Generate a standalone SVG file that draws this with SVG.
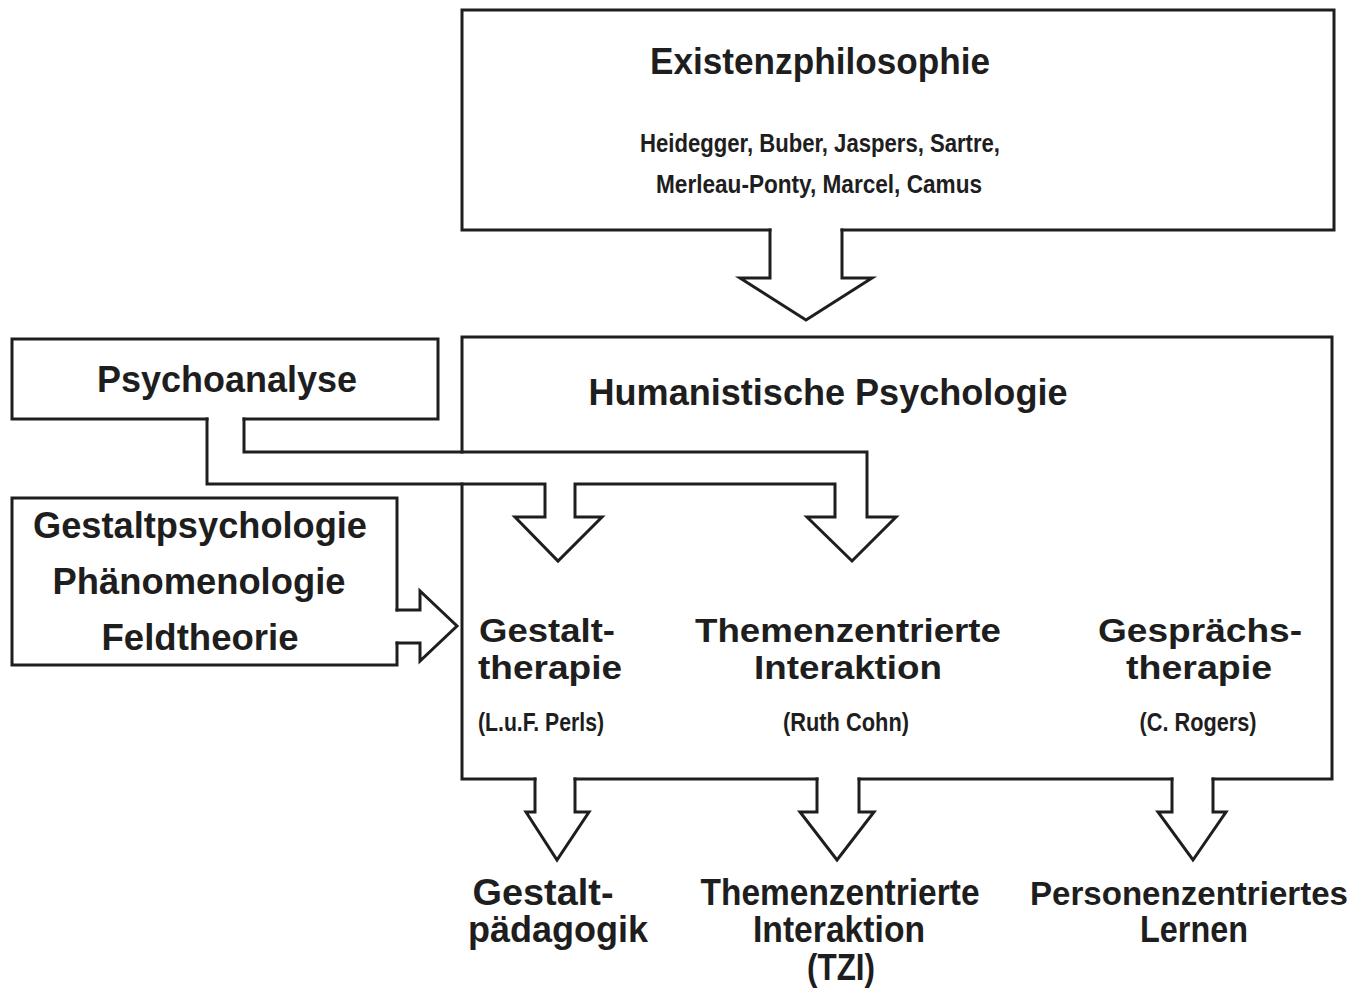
<svg xmlns="http://www.w3.org/2000/svg" width="1370" height="989" viewBox="0 0 1370 989">
<style>
.ln{fill:none;stroke:#1e1e1e;stroke-width:3;stroke-linejoin:miter;stroke-linecap:square}
.t{font-family:"Liberation Sans",Arial,sans-serif;font-weight:bold;fill:#1e1e1e;text-anchor:middle}
.big{font-size:36px}
.mid{font-size:33px}
.bot{font-size:36px}
.sm{font-size:26px}
</style>
<rect width="1370" height="989" fill="#ffffff"/>
<g id="existenzphilosophie">
<path class="ln" d="M770,230 H462 V10 H1334 V230 H842"/>
<text class="t big" x="820" y="74" textLength="340" lengthAdjust="spacingAndGlyphs">Existenzphilosophie</text>
<text class="t sm" x="820" y="152" textLength="360" lengthAdjust="spacingAndGlyphs">Heidegger, Buber, Jaspers, Sartre,</text>
<text class="t sm" x="819" y="193" textLength="326" lengthAdjust="spacingAndGlyphs">Merleau-Ponty, Marcel, Camus</text>
</g>
<g id="psychoanalyse">
<path class="ln" d="M207,419 H12 V339 H438 V419 H244"/>
<text class="t big" x="227" y="392" textLength="260" lengthAdjust="spacingAndGlyphs">Psychoanalyse</text>
</g>
<g id="gestaltpsychologie">
<path class="ln" d="M397,610 V498 H12 V665 H397 V643"/>
<text class="t big" x="200" y="538" textLength="334" lengthAdjust="spacingAndGlyphs">Gestaltpsychologie</text>
<text class="t big" x="199" y="594" textLength="293" lengthAdjust="spacingAndGlyphs">Phänomenologie</text>
<text class="t big" x="200" y="650" textLength="197" lengthAdjust="spacingAndGlyphs">Feldtheorie</text>
</g>
<g id="humanistische-psychologie">
<path class="ln" d="M462,452 V337 H1332 V779 H1213 M1172,779 H859 M817,779 H575 M535,779 H462 V484"/>
<text class="t big" x="828" y="405" textLength="479" lengthAdjust="spacingAndGlyphs">Humanistische Psychologie</text>
<text class="t mid" x="547" y="642" textLength="136" lengthAdjust="spacingAndGlyphs">Gestalt-</text>
<text class="t mid" x="550" y="679" textLength="144" lengthAdjust="spacingAndGlyphs">therapie</text>
<text class="t sm" x="541" y="731" textLength="126" lengthAdjust="spacingAndGlyphs">(L.u.F. Perls)</text>
<text class="t mid" x="848" y="642" textLength="306" lengthAdjust="spacingAndGlyphs">Themenzentrierte</text>
<text class="t mid" x="848" y="679" textLength="188" lengthAdjust="spacingAndGlyphs">Interaktion</text>
<text class="t sm" x="846" y="731" textLength="126" lengthAdjust="spacingAndGlyphs">(Ruth Cohn)</text>
<text class="t mid" x="1200" y="642" textLength="204" lengthAdjust="spacingAndGlyphs">Gesprächs-</text>
<text class="t mid" x="1199" y="679" textLength="146" lengthAdjust="spacingAndGlyphs">therapie</text>
<text class="t sm" x="1198" y="731" textLength="117" lengthAdjust="spacingAndGlyphs">(C. Rogers)</text>
</g>
<g id="gestaltpaedagogik">
<text class="t bot" x="543" y="905" textLength="141" lengthAdjust="spacingAndGlyphs">Gestalt-</text>
<text class="t bot" x="558" y="942" textLength="180" lengthAdjust="spacingAndGlyphs">pädagogik</text>
</g>
<g id="tzi">
<text class="t bot" x="840" y="905" textLength="279" lengthAdjust="spacingAndGlyphs">Themenzentrierte</text>
<text class="t bot" x="839" y="942" textLength="172" lengthAdjust="spacingAndGlyphs">Interaktion</text>
<text class="t bot" x="841" y="980" textLength="68" lengthAdjust="spacingAndGlyphs">(TZI)</text>
</g>
<g id="personenzentriertes-lernen">
<text class="t mid" x="1189" y="905" textLength="318" lengthAdjust="spacingAndGlyphs">Personenzentriertes</text>
<text class="t bot" x="1194" y="942" textLength="108" lengthAdjust="spacingAndGlyphs">Lernen</text>
</g>
<g id="connectors">
<path class="ln" d="M770,230 V278 H740 L806,320 L872,278 H842 V230"/>
<path class="ln" d="M207,419 V484 H545 V517 H515 L558,561 L602,517 H575 V484 H835 V517 H807 L852,561 L896,517 H867 V452 H244 V419"/>
<path class="ln" d="M397,610 H420 V591 L457,626 L420,661 V643 H397"/>
<path class="ln" d="M535,779 V812 H526 L557,860 L589,812 H575 V779"/>
<path class="ln" d="M817,779 V812 H800 L837,860 L874,812 H859 V779"/>
<path class="ln" d="M1172,779 V812 H1158 L1193,860 L1226,812 H1213 V779"/>
</g>
</svg>
